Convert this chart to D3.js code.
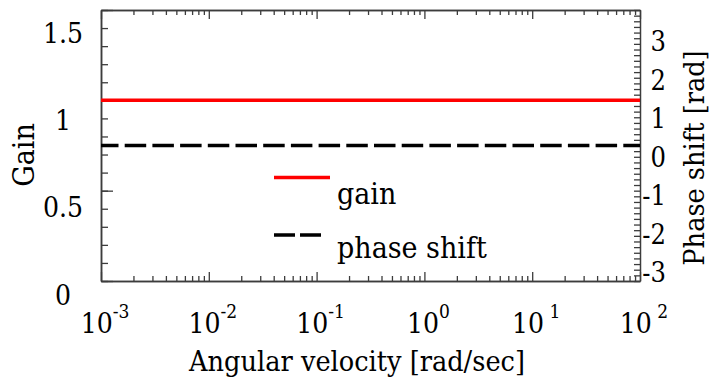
<!DOCTYPE html>
<html>
<head>
<meta charset="utf-8">
<script src="https://cdn.jsdelivr.net/npm/d3@7"></script>
<style>
  body { margin: 0; background: #fff; }
  .frame line, .frame path { stroke: #3c3c3c; }
  svg text { font-family: "DejaVu Serif Condensed", "DejaVu Serif", serif; font-stretch: condensed; }
</style>
</head>
<body>
<div id="chart"></div>
<script>
// data
var omega = [0.001, 0.01, 0.1, 1, 10, 100];
var gain = [1, 1, 1, 1, 1, 1];
var phase = [0, 0, 0, 0, 0, 0];

var xMajor = [1e-3, 1e-2, 1e-1, 1e0, 1e1, 1e2];
var xExp = ['-3', '-2', '-1', '0', ' 1', ' 2'];
var gainTicks = [0, 0.5, 1, 1.5];
var gainLabels = ['0', '0.5', '1', '1.5'];
var phaseTicks = [-3, -2, -1, 0, 1, 2, 3];
var phaseLabels = ['-3', '-2', '-1', '0', '1', '2', '3'];

var W = 711, H = 379;
var margin = {top: 10, left: 101, right: 71, bottom: 98};
var width = W - margin.left - margin.right;
var height = H - margin.top - margin.bottom;

var svg = d3.select('#chart').append('svg')
  .attr('width', W).attr('height', H);

var plot = svg.append('g')
  .attr('transform', 'translate(' + margin.left + ',' + margin.top + ')');

var x = d3.scaleLog().domain([1e-3, 1e2]).range([0, width]);
var yGain = d3.scaleLinear().domain([0, 1.5]).range([height, 0]);
var yPhase = d3.scaleLinear().domain([-3, 3]).range([height, 0]);

// the tick labels sit a little off their ticks in the original
var gainLabelY = d3.scaleLinear().domain([0, 1.5]).range([height + 14, 23]);
var phaseLabelY = d3.scaleLinear().domain([-3, 3]).range([height - 8, 32]);

// minor x ticks 2..9 per decade
var xMinor = [];
xMajor.slice(0, -1).forEach(function(d){
  for (var k = 2; k <= 9; k++) xMinor.push(d * k);
});

function addAxis(axis, tr){
  var g = plot.append('g').attr('class', 'frame');
  if (tr) g.attr('transform', tr);
  g.call(axis);
  g.selectAll('text').remove();
  g.selectAll('.tick line').attr('stroke-width', 1.3);
  g.select('.domain').attr('stroke-width', 1.5);
  return g;
}

addAxis(d3.axisBottom(x).tickValues(xMinor).tickSizeInner(-5).tickSizeOuter(0), 'translate(0,' + height + ')');
addAxis(d3.axisBottom(x).tickValues(xMajor).tickSizeInner(-9).tickSizeOuter(0), 'translate(0,' + height + ')');
addAxis(d3.axisTop(x).tickValues(xMinor).tickSizeInner(-5).tickSizeOuter(0));
addAxis(d3.axisTop(x).tickValues(xMajor).tickSizeInner(-9).tickSizeOuter(0));
addAxis(d3.axisLeft(yGain).tickValues(d3.range(0, 1.501, 0.1)).tickSizeInner(-7).tickSizeOuter(0));
addAxis(d3.axisLeft(yGain).tickValues(gainTicks).tickSizeInner(-12).tickSizeOuter(0));
addAxis(d3.axisRight(yPhase).tickValues(d3.range(-3, 3.001, 0.125)).tickSizeInner(-6).tickSizeOuter(0), 'translate(' + width + ',0)');

// x tick labels 10^n
var xl = plot.append('g').selectAll('text')
  .data(xMajor).enter().append('text')
  .attr('x', function(d){ return x(d) + 4; })
  .attr('y', height + 52)
  .attr('text-anchor', 'middle')
  .attr('font-size', 28)
  .attr('xml:space', 'preserve');
xl.append('tspan').text('10');
xl.append('tspan')
  .attr('dy', -15)
  .attr('font-size', 19)
  .text(function(d, i){ return xExp[i]; });

plot.append('g').selectAll('text')
  .data(gainTicks).enter().append('text')
  .attr('x', -38)
  .attr('y', function(d){ return gainLabelY(d); })
  .attr('dy', '0.35em')
  .attr('text-anchor', 'middle')
  .attr('font-size', 28)
  .text(function(d, i){ return gainLabels[i]; });

plot.append('g').selectAll('text')
  .data(phaseTicks).enter().append('text')
  .attr('x', width + 26)
  .attr('y', function(d){ return phaseLabelY(d); })
  .attr('dy', '0.35em')
  .attr('text-anchor', 'end')
  .attr('font-size', 27)
  .text(function(d, i){ return phaseLabels[i]; });

svg.append('text')
  .attr('x', 357).attr('y', 371)
  .attr('text-anchor', 'middle')
  .attr('font-size', 28.5)
  .text('Angular velocity [rad/sec]');

svg.append('text')
  .attr('transform', 'translate(34,155) rotate(-90)')
  .attr('text-anchor', 'middle')
  .attr('font-size', 30)
  .text('Gain');

svg.append('text')
  .attr('transform', 'translate(704,158) rotate(-90)')
  .attr('text-anchor', 'middle')
  .attr('font-size', 28.5)
  .text('Phase shift [rad]');

var gainLine = d3.line()
  .x(function(d, i){ return x(omega[i]); })
  .y(function(d){ return yGain(d); });
var phaseLine = d3.line()
  .x(function(d, i){ return x(omega[i]); })
  .y(function(d){ return yPhase(d); });

plot.append('path')
  .attr('d', phaseLine(phase))
  .attr('fill', 'none')
  .attr('stroke', '#000')
  .attr('stroke-width', 3.5)
  .attr('stroke-dasharray', '21.5,6.2')
  .attr('stroke-dashoffset', 4);

plot.append('path')
  .attr('d', gainLine(gain))
  .attr('fill', 'none')
  .attr('stroke', '#ff0000')
  .attr('stroke-width', 3.5);

// legend
var legend = svg.append('g');
legend.append('line')
  .attr('x1', 274).attr('x2', 330).attr('y1', 177.5).attr('y2', 177.5)
  .attr('stroke', '#ff0000').attr('stroke-width', 3.5);
legend.append('text')
  .attr('x', 337).attr('y', 204)
  .attr('font-size', 30)
  .text('gain');
legend.append('line')
  .attr('x1', 274).attr('x2', 321).attr('y1', 235).attr('y2', 235)
  .attr('stroke', '#000').attr('stroke-width', 3.5)
  .attr('stroke-dasharray', '21,5');
legend.append('text')
  .attr('x', 337).attr('y', 258)
  .attr('font-size', 30)
  .text('phase shift');
</script>
</body>
</html>
